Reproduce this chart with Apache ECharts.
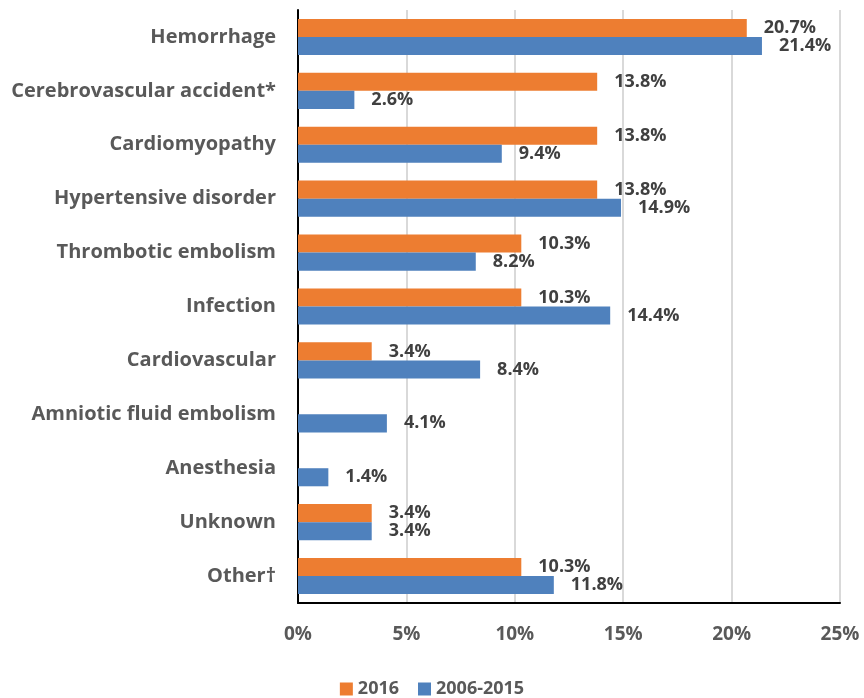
<!DOCTYPE html>
<html>
<head>
<meta charset="utf-8">
<script src="https://cdn.jsdelivr.net/npm/echarts@6/dist/echarts.min.js"></script>
<style>
  html, body { margin: 0; padding: 0; background: #fff; }
  #chart { width: 864px; height: 698px; }
</style>
</head>
<body>
<div id="chart"></div>
<script>
// causes of death, top to bottom
const categories = [
  'Hemorrhage', 'Cerebrovascular accident*', 'Cardiomyopathy', 'Hypertensive disorder',
  'Thrombotic embolism', 'Infection', 'Cardiovascular', 'Amniotic fluid embolism',
  'Anesthesia', 'Unknown', 'Other\u2020'
];
const values2016 = [20.7, 13.8, 13.8, 13.8, 10.3, 10.3, 3.4, null, null, 3.4, 10.3];
const values2006 = [21.4, 2.6, 9.4, 14.9, 8.2, 14.4, 8.4, 4.1, 1.4, 3.4, 11.8];
const xTicks = [0, 5, 10, 15, 20, 25];

const font = '"Open Sans", "DejaVu Sans", sans-serif';
const chart = echarts.init(document.getElementById('chart'));

const labelStyle = {
  show: true,
  position: 'right',
  distance: 17,
  color: '#404040',
  fontFamily: font,
  fontWeight: 'bold',
  fontSize: 18,
  formatter: p => p.value == null ? '' : p.value.toFixed(1) + '%'
};

chart.setOption({
  animation: false,
  textStyle: { fontFamily: font },
  grid: { left: 298, right: 24, top: 10, bottom: 95 },
  legend: {
    bottom: -5,
    left: 'center',
    itemWidth: 13,
    itemHeight: 13,
    itemGap: 19,
    icon: 'rect',
    textStyle: { color: '#595959', fontFamily: font, fontWeight: 'bold', fontSize: 18 },
    data: ['2016', '2006-2015']
  },
  xAxis: {
    type: 'value',
    min: xTicks[0],
    max: xTicks[xTicks.length - 1],
    interval: 5,
    axisLine: { show: true, lineStyle: { color: '#000', width: 2 } },
    axisTick: { show: false },
    splitLine: { show: true, lineStyle: { color: '#D9D9D9', width: 2 } },
    axisLabel: {
      margin: 22,
      color: '#595959',
      fontFamily: font,
      fontWeight: 'bold',
      fontSize: 19,
      formatter: v => v + '%'
    }
  },
  yAxis: {
    type: 'category',
    inverse: true,
    data: categories,
    axisLine: { show: true, lineStyle: { color: '#000', width: 2 } },
    axisTick: { show: false },
    axisLabel: {
      margin: 22,
      color: '#595959',
      fontFamily: font,
      fontWeight: 'bold',
      fontSize: 20
    }
  },
  series: [
    {
      name: '2016',
      type: 'bar',
      data: values2016,
      barGap: '0%',
      barCategoryGap: '33%',
      itemStyle: { color: '#ED7D31' },
      label: labelStyle
    },
    {
      name: '2006-2015',
      type: 'bar',
      data: values2006,
      itemStyle: { color: '#4F81BD' },
      label: labelStyle
    }
  ]
});
</script>
</body>
</html>
